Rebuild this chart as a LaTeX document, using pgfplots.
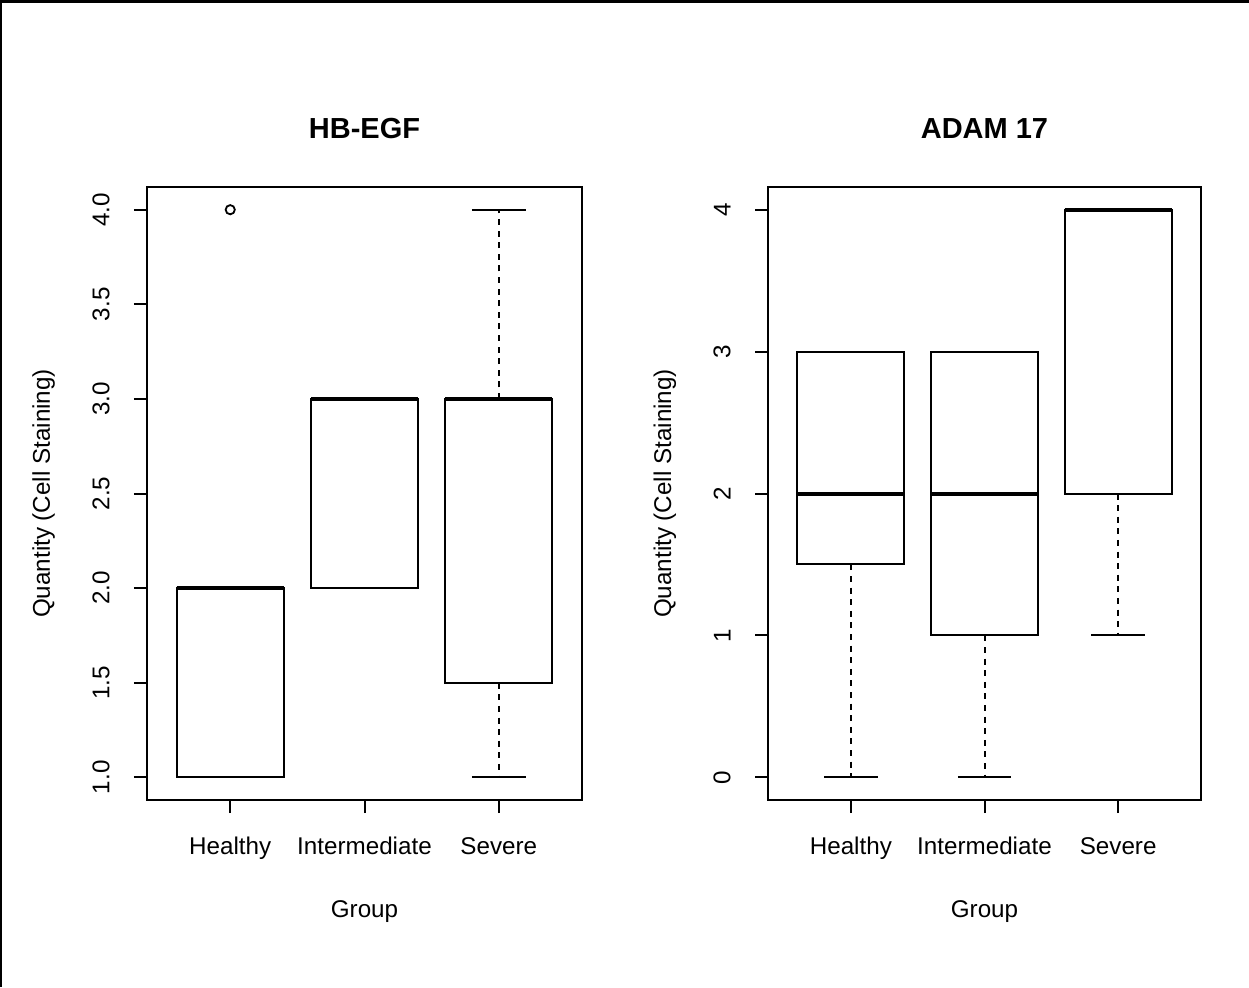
\documentclass[border=0pt]{standalone}
\usepackage{fontspec}
\setmainfont{Liberation Sans}
\usepackage{pgfplots}
\pgfplotsset{compat=1.18}
\begin{document}
\begin{tikzpicture}[x=1pt,y=1pt]
\useasboundingbox (0,0) rectangle (624.5,493.5);
\draw[line width=1.4pt] (0,492.8) -- (624.5,492.8);
\draw[line width=1.2pt] (0.6,0) -- (0.6,493.5);
\pgfplotsset{
  rbox/.style={
    scale only axis, anchor=south west, height=306.5pt,
    xmin=0.38, xmax=3.62,
    xtick={1,2,3}, xticklabels={Healthy,Intermediate,Severe},
    axis line style={line width=1pt},
    tick align=outside, major tick length=6.5pt,
    tick style={line width=1pt, black},
    xtick pos=lower, ytick pos=left,
    /pgf/number format/assume math mode=true,
    xticklabel style={font=\fontsize{12.1pt}{14pt}\selectfont, anchor=north, inner sep=0pt},
    xticklabel shift=12pt,
    yticklabel style={font=\fontsize{12.1pt}{14pt}\selectfont, rotate=90, anchor=south, inner sep=0pt},
    yticklabel shift=12pt,
    xlabel={Group},
    ylabel={Quantity (Cell Staining)},
    xlabel style={font=\fontsize{12.1pt}{14pt}\selectfont, at={([yshift=-58.5pt]axis description cs:0.5,0)}, anchor=base, inner sep=0pt},
    ylabel style={font=\fontsize{12.1pt}{14pt}\selectfont, at={([xshift=-48.5pt]axis description cs:0,0.5)}, rotate=0, anchor=base, inner sep=0pt},
    title style={font=\bfseries\fontsize{14.5pt}{17pt}\selectfont, at={([yshift=18.5pt]axis description cs:0.5,1)}, anchor=base, inner sep=0pt},
    clip=false,
  },
  wh/.style={black, line width=1pt, dash pattern=on 3pt off 2.8pt},
  cap/.style={black, line width=1pt},
  bx/.style={black, line width=1pt},
  md/.style={black, line width=2pt},
}
% ---------------- Panel 1: HB-EGF
\begin{axis}[rbox, at={(73.5pt,93.5pt)}, width=217.5pt,
  ymin=0.88, ymax=4.12,
  ytick={1,1.5,2,2.5,3,3.5,4}, yticklabels={1.0,1.5,2.0,2.5,3.0,3.5,4.0},
  title={HB-EGF}]
% Healthy
\addplot[cap] coordinates {(0.8,1) (1.2,1)};
\addplot[cap] coordinates {(0.8,2) (1.2,2)};
\addplot[bx] coordinates {(0.6,1) (1.4,1) (1.4,2) (0.6,2)} --cycle;
\addplot[md] coordinates {(0.6,2) (1.4,2)};
\addplot[only marks, mark=o, mark size=2.3pt, mark options={line width=0.9pt, black}] coordinates {(1,4)};
% Intermediate
\addplot[cap] coordinates {(1.8,2) (2.2,2)};
\addplot[cap] coordinates {(1.8,3) (2.2,3)};
\addplot[bx] coordinates {(1.6,2) (2.4,2) (2.4,3) (1.6,3)} --cycle;
\addplot[md] coordinates {(1.6,3) (2.4,3)};
% Severe
\addplot[wh] coordinates {(3,1.5) (3,1)};
\addplot[wh] coordinates {(3,3) (3,4)};
\addplot[cap] coordinates {(2.8,1) (3.2,1)};
\addplot[cap] coordinates {(2.8,4) (3.2,4)};
\addplot[bx] coordinates {(2.6,1.5) (3.4,1.5) (3.4,3) (2.6,3)} --cycle;
\addplot[md] coordinates {(2.6,3) (3.4,3)};
\end{axis}
% ---------------- Panel 2: ADAM 17
\begin{axis}[rbox, at={(384pt,93.5pt)}, width=216.5pt,
  ymin=-0.16, ymax=4.16,
  ytick={0,1,2,3,4}, yticklabels={0,1,2,3,4},
  title={ADAM 17}]
% Healthy
\addplot[wh] coordinates {(1,1.5) (1,0)};
\addplot[cap] coordinates {(0.8,0) (1.2,0)};
\addplot[cap] coordinates {(0.8,3) (1.2,3)};
\addplot[bx] coordinates {(0.6,1.5) (1.4,1.5) (1.4,3) (0.6,3)} --cycle;
\addplot[md] coordinates {(0.6,2) (1.4,2)};
% Intermediate
\addplot[wh] coordinates {(2,1) (2,0)};
\addplot[cap] coordinates {(1.8,0) (2.2,0)};
\addplot[cap] coordinates {(1.8,3) (2.2,3)};
\addplot[bx] coordinates {(1.6,1) (2.4,1) (2.4,3) (1.6,3)} --cycle;
\addplot[md] coordinates {(1.6,2) (2.4,2)};
% Severe
\addplot[wh] coordinates {(3,2) (3,1)};
\addplot[cap] coordinates {(2.8,1) (3.2,1)};
\addplot[cap] coordinates {(2.8,4) (3.2,4)};
\addplot[bx] coordinates {(2.6,2) (3.4,2) (3.4,4) (2.6,4)} --cycle;
\addplot[md] coordinates {(2.6,4) (3.4,4)};
\end{axis}
\end{tikzpicture}
\end{document}
